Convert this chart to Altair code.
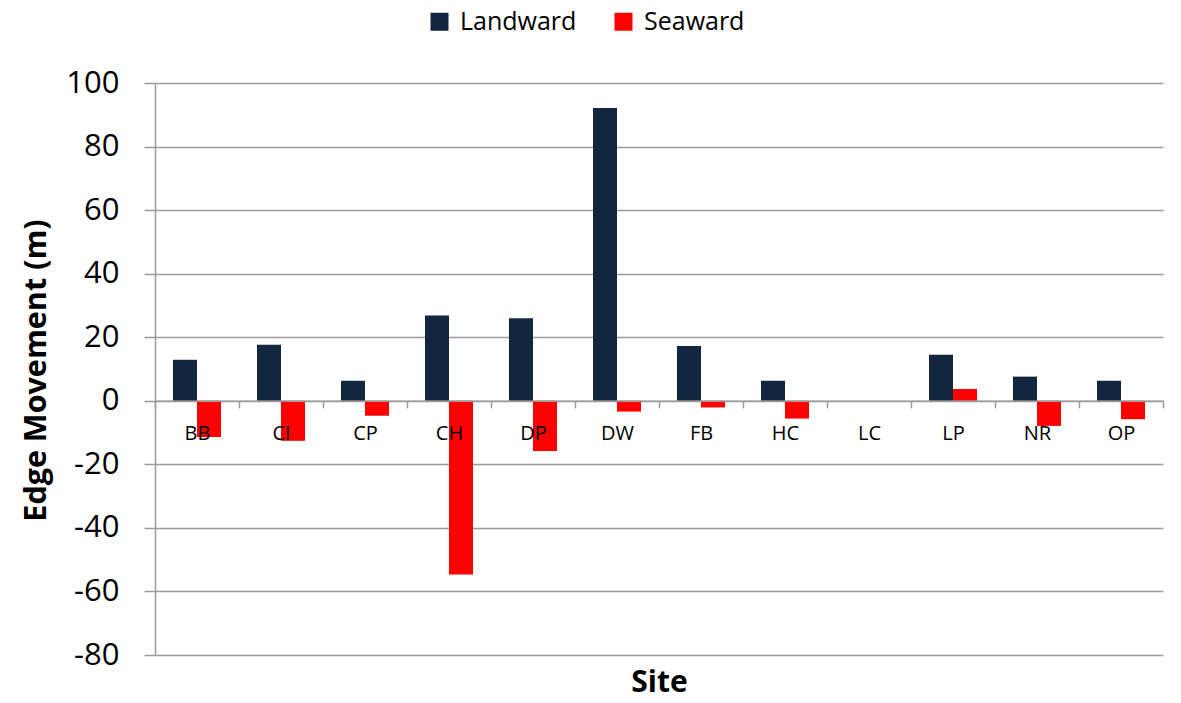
import altair as alt
import pandas as pd

sites = ["BB", "CI", "CP", "CH", "DP", "DW", "FB", "HC", "LC", "LP", "NR", "OP"]
landward = [12.9, 17.6, 6.3, 26.8, 26.0, 92.1, 17.2, 6.3, 0, 14.5, 7.6, 6.3]
seaward = [-11.4, -12.6, -4.7, -54.7, -15.8, -3.4, -2.1, -5.6, 0, 3.7, -7.9, -5.8]
series = ["Landward", "Seaward"]
colors = ["#13263F", "#FF0000"]
y_ticks = [-80, -60, -40, -20, 0, 20, 40, 60, 80, 100]

rows = []
for s, l, w in zip(sites, landward, seaward):
    rows.append({"Site": s, "Direction": "Landward", "Value": l})
    rows.append({"Site": s, "Direction": "Seaward", "Value": w})
df = pd.DataFrame(rows)

W, H = 1008, 572
ymin, ymax = -80, 100
zero_from_bottom = H * (0 - ymin) / (ymax - ymin)
FONT = "Open Sans"
GRID = "#9a9a9a"

chart = alt.Chart(df).mark_bar().encode(
    x=alt.X(
        "Site:N", sort=sites,
        scale=alt.Scale(paddingInner=0, paddingOuter=0),
        axis=alt.Axis(
            title="Site", orient="bottom", offset=-zero_from_bottom,
            domainColor=GRID, domainWidth=1.5, tickColor=GRID, tickWidth=1.5,
            tickBand="extent", tickSize=7, labelPadding=16, labelAngle=0,
            labelFontSize=20, labelColor="black", labelFont=FONT,
            titleFont=FONT, titleFontSize=30, titleFontWeight="bold", titleColor="black",
            titleX=W / 2, titleY=282, titleBaseline="middle", titleAlign="center",
            grid=False, zindex=1,
        ),
    ),
    xOffset=alt.XOffset("Direction:N", sort=series,
                        scale=alt.Scale(paddingInner=0, paddingOuter=0.75)),
    y=alt.Y(
        "Value:Q",
        scale=alt.Scale(domain=[ymin, ymax], nice=False, zero=False),
        axis=alt.Axis(
            values=y_ticks, title="Edge Movement (m)",
            labelExpr="datum.value < 0 ? '-' + abs(datum.value) : '' + datum.value",
            domainColor=GRID, domainWidth=1.5, tickColor=GRID, tickWidth=1.5, tickSize=11,
            labelPadding=25, labelFontSize=31, labelFont=FONT, labelColor="black",
            gridColor=GRID, gridWidth=1.5,
            titleFont=FONT, titleFontSize=30.5, titleFontWeight="bold", titleColor="black",
            titleAngle=270, titleX=-110, titleY=287, titleAlign="center",
            titleBaseline="alphabetic",
        ),
    ),
    color=alt.Color(
        "Direction:N", sort=series,
        scale=alt.Scale(domain=series, range=colors),
        legend=alt.Legend(
            title=None, orient="none", direction="horizontal",
            legendX=272, legendY=-74,
            symbolType="square", symbolSize=324, symbolStrokeWidth=0, symbolOpacity=1,
            labelFont=FONT, labelFontSize=25, labelColor="black", labelOffset=8,
            columnPadding=34, labelLimit=0,
        ),
    ),
).properties(
    width=W, height=H,
    autosize=alt.AutoSizeParams(type="none"),
    padding={"left": 147, "top": 75, "right": 10, "bottom": 48},
).configure_view(strokeWidth=0)

chart.save("out.html", embed_options={"renderer": "svg", "actions": False})
